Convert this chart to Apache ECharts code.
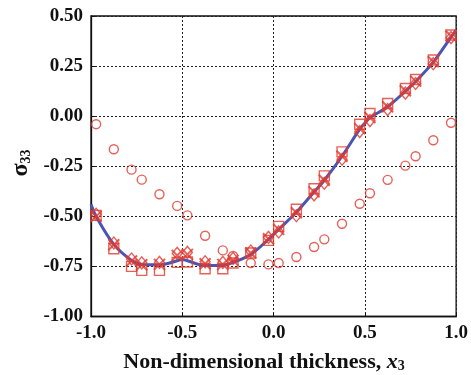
<!DOCTYPE html>
<html>
<head>
<meta charset="utf-8">
<script src="https://cdn.jsdelivr.net/npm/echarts@6/dist/echarts.min.js"></script>
<style>
  html, body { margin: 0; padding: 0; background: #fff; }
  #chart { width: 471px; height: 375px; }
</style>
</head>
<body>
<div id="chart"></div>
<script>
// Through-thickness positions (3 Gauss points in each of 8 layers)
var xPoints = [-0.972, -0.875, -0.778, -0.722, -0.625, -0.528, -0.472, -0.375, -0.278, -0.222, -0.125, -0.028,
               0.028, 0.125, 0.222, 0.278, 0.375, 0.472, 0.528, 0.625, 0.722, 0.778, 0.875, 0.972];

// sigma_33 from the different models
var crossValues   = [-0.500, -0.642, -0.723, -0.742, -0.740, -0.695, -0.690, -0.737, -0.740, -0.720, -0.683, -0.612,
                     -0.565, -0.482, -0.378, -0.320, -0.200, -0.062, -0.007, 0.047, 0.127, 0.175, 0.272, 0.400];
var squareValues  = [-0.495, -0.662, -0.750, -0.770, -0.770, -0.730, -0.728, -0.762, -0.762, -0.733, -0.683, -0.620,
                     -0.550, -0.465, -0.362, -0.298, -0.178, -0.040, 0.013, 0.063, 0.138, 0.183, 0.280, 0.405];
var diamondValues = [-0.490, -0.633, -0.713, -0.732, -0.730, -0.685, -0.680, -0.727, -0.730, -0.710, -0.673, -0.605,
                     -0.578, -0.497, -0.393, -0.335, -0.215, -0.077, -0.022, 0.033, 0.115, 0.163, 0.262, 0.392];
var circleValues  = [-0.040, -0.165, -0.267, -0.317, -0.390, -0.448, -0.495, -0.597, -0.670, -0.698, -0.733, -0.740,
                     -0.733, -0.703, -0.653, -0.615, -0.537, -0.437, -0.385, -0.318, -0.247, -0.200, -0.120, -0.033];

// Continuous reference solution
var curveX = [-1, -0.972, -0.875, -0.778, -0.722, -0.625, -0.528, -0.5, -0.472, -0.375, -0.278, -0.222, -0.125, -0.028, 0,
              0.028, 0.125, 0.222, 0.278, 0.375, 0.472, 0.5, 0.528, 0.625, 0.722, 0.778, 0.875, 0.972, 1];
var curveY = [-0.440, -0.500, -0.640, -0.720, -0.740, -0.742, -0.722, -0.715, -0.722, -0.745, -0.745, -0.730, -0.690, -0.615, -0.590,
              -0.565, -0.480, -0.378, -0.320, -0.200, -0.065, -0.035, -0.008, 0.047, 0.125, 0.173, 0.270, 0.395, 0.430];

var xTicks = [-1.0, -0.5, 0.0, 0.5, 1.0];
var yTicks = [-1.00, -0.75, -0.50, -0.25, 0.00, 0.25, 0.50];

function pairs(xs, ys) { return xs.map(function (x, i) { return [x, ys[i]]; }); }

var RED = '#e0392f';
var BLUE = '#4a56b2';
var FONT = 'Liberation Serif';

var chart = echarts.init(document.getElementById('chart'), null, { renderer: 'canvas' });

var openStyle = { color: 'rgba(0,0,0,0)', borderColor: RED, borderWidth: 1.4 };

chart.setOption({
  animation: false,
  backgroundColor: '#fff',
  grid: { left: 91, right: 11, top: 16, bottom: 58.5, show: true, borderColor: '#111', borderWidth: 1.3, backgroundColor: 'transparent' },
  xAxis: {
    type: 'value', min: xTicks[0], max: xTicks[xTicks.length - 1], interval: 0.5,
    axisLine: { show: true, onZero: false, lineStyle: { color: '#111', width: 1.3 } },
    axisTick: { show: true, inside: true, length: 4, lineStyle: { color: '#111' } },
    splitLine: { show: true, lineStyle: { color: '#222', type: [2, 2], width: 1 } },
    axisLabel: { color: '#111', fontFamily: FONT, fontWeight: 'bold', fontSize: 19, margin: 7,
                 formatter: function (v) { return v.toFixed(1); } }
  },
  yAxis: {
    type: 'value', min: yTicks[0], max: yTicks[yTicks.length - 1], interval: 0.25,
    axisLine: { show: true, onZero: false, lineStyle: { color: '#111', width: 1.3 } },
    axisTick: { show: true, inside: true, length: 4, lineStyle: { color: '#111' } },
    splitLine: { show: true, lineStyle: { color: '#222', type: [2, 2], width: 1 } },
    axisLabel: { color: '#111', fontFamily: FONT, fontWeight: 'bold', fontSize: 19, margin: 8,
                 formatter: function (v) { return v.toFixed(2); } }
  },
  graphic: [
    {
      type: 'text', x: 264, y: 361, z: 10,
      style: {
        text: '{b|Non-dimensional thickness, }{i|x}{s|3}',
        align: 'center', verticalAlign: 'middle',
        rich: {
          b: { fontFamily: FONT, fontWeight: 'bold', fontSize: 22, fill: '#111', lineHeight: 25, verticalAlign: 'bottom' },
          i: { fontFamily: FONT, fontWeight: 'bold', fontStyle: 'italic', fontSize: 22, fill: '#111', lineHeight: 25, verticalAlign: 'bottom' },
          s: { fontFamily: FONT, fontWeight: 'bold', fontSize: 14, fill: '#111', lineHeight: 14, verticalAlign: 'bottom' }
        }
      }
    },
    {
      type: 'text', x: 20, y: 163, rotation: Math.PI / 2, z: 10,
      style: {
        text: '{b|σ}{s|33}',
        align: 'center', verticalAlign: 'middle',
        rich: {
          b: { fontFamily: FONT, fontWeight: 'bold', fontSize: 24, fill: '#111', lineHeight: 26, verticalAlign: 'bottom' },
          s: { fontFamily: FONT, fontWeight: 'bold', fontSize: 14, fill: '#111', lineHeight: 14, verticalAlign: 'bottom' }
        }
      }
    }
  ],
  series: [
    {
      type: 'line', data: pairs(curveX, curveY), smooth: 0.35, showSymbol: false, z: 2,
      lineStyle: { color: BLUE, width: 3 }
    },
    {
      type: 'scatter', data: pairs(xPoints, circleValues), symbol: 'circle', symbolSize: 9, z: 3,
      itemStyle: openStyle
    },
    {
      type: 'scatter', data: pairs(xPoints, squareValues), symbol: 'rect', symbolSize: 10, z: 4,
      itemStyle: openStyle
    },
    {
      type: 'scatter', data: pairs(xPoints, diamondValues), symbol: 'diamond', symbolSize: [10, 12], z: 4,
      itemStyle: openStyle
    },
    {
      type: 'scatter', data: pairs(xPoints, crossValues), symbol: 'path://M0,0L10,10M10,0L0,10', symbolSize: 11, z: 5,
      itemStyle: { color: 'rgba(0,0,0,0)', borderColor: RED, borderWidth: 2 }
    }
  ]
});
</script>
</body>
</html>
